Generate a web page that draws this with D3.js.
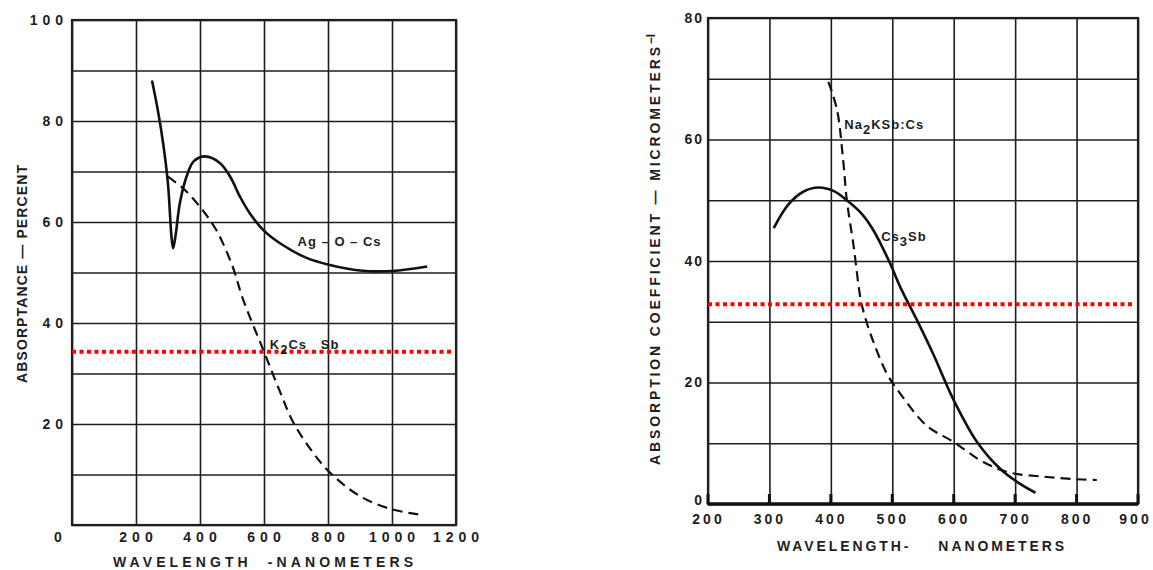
<!DOCTYPE html>
<html lang="en">
<head>
<meta charset="utf-8">
<title>Absorptance and absorption coefficient of photocathodes</title>
<script src="https://cdn.jsdelivr.net/npm/d3@7"></script>
<style>
  body { margin: 0; background: #fff; }
  text {
    font-family: "Liberation Sans", Arial, sans-serif;
    font-weight: bold;
    fill: #1e1e1e;
  }
  .grid line { stroke: #1e1e1e; stroke-width: 1.6; }
  .grid path { display: none; }
  .grid text { font-size: 14px; letter-spacing: 5px; }
  .frame { fill: none; stroke: #1e1e1e; stroke-width: 2.2; }
  .solid { fill: none; stroke: #111; stroke-width: 2.6; }
  .dashed { fill: none; stroke: #111; stroke-width: 2.2; stroke-dasharray: 10,6; }
  .marker { stroke: #ff0000; stroke-width: 4; stroke-dasharray: 4,3.5; }
  .title { font-size: 14px; white-space: pre; }
  .curve-label { font-size: 13px; letter-spacing: 1px; white-space: pre; }
</style>
</head>
<body>
<script>

// ---- left panel: absorptance (percent) vs wavelength (nm)
var leftWaveTicks = [0, 200, 400, 600, 800, 1000, 1200];
var leftPctTicks = [20, 40, 60, 80, 100];

var agWave  = [250, 270, 285, 300, 311, 316, 324, 337, 358, 380, 415, 462, 494, 525, 556, 598, 650, 733, 806, 900, 1000, 1110];
var agValue = [88, 81.5, 75.5, 67.5, 57, 54.8, 57.5, 63.7, 69, 72, 73, 71.7, 69, 65, 61.7, 58.4, 55.8, 52.9, 51.5, 50.4, 50.3, 51.2];

var k2Wave  = [300, 350, 400, 450, 500, 535, 600, 650, 690, 750, 806, 900, 1000, 1082];
var k2Value = [69, 66.5, 63, 58.5, 51.5, 44.6, 34.3, 26.4, 20.5, 14.6, 10.4, 5.7, 3.1, 2.1];

var leftMarker = 34.3;

// ---- right panel: absorption coefficient (1/um) vs wavelength (nm)
var rightWaveTicks = [200, 300, 400, 500, 600, 700, 800, 900];
var rightCoefTicks = [0, 20, 40, 60, 80];

var csWave  = [307, 330, 355, 380, 405, 426, 450, 469, 496, 513, 540, 567, 600, 638, 676, 703, 733];
var csValue = [45.4, 49.2, 51.4, 52.1, 51.5, 50, 47.8, 45.1, 39.7, 35.7, 30.3, 24.6, 17.1, 10.2, 5.75, 3.65, 1.85];

var naWave  = [396, 410, 420, 426, 437, 448, 455, 470, 491, 512, 556, 600, 648, 692, 746, 795, 833];
var naValue = [69.5, 64.9, 56.6, 50, 42.5, 34, 31, 26.5, 21.5, 18.3, 12.9, 10.2, 6.9, 5.15, 4.5, 4.1, 3.95];

var rightMarker = 32.9;

var svg = d3.select("body")
            .append("svg")
            .attr("width", 1153)
            .attr("height", 570);

var line = d3.line().curve(d3.curveCatmullRom.alpha(0.5));

// ================= left panel =================
var xL = d3.scaleLinear().domain([0, 1200]).range([72, 456]);
var yL = d3.scaleLinear().domain([0, 100]).range([525, 20]);

var gL = svg.append("g");

gL.append("g")
  .attr("class", "grid")
  .attr("transform", "translate(0," + yL(0) + ")")
  .call(d3.axisBottom(xL)
          .tickValues(leftWaveTicks)
          .tickSize(-(yL(0) - yL(100)))
          .tickPadding(7)
          .tickFormat(d3.format("d")))
  .selectAll(".tick text")
  .attr("dx", function(d) { return d === 0 ? -12 : 2; });

gL.append("g")
  .attr("class", "grid")
  .attr("transform", "translate(" + xL(0) + ",0)")
  .call(d3.axisLeft(yL)
          .tickValues(d3.range(0, 101, 10))
          .tickSize(-(xL(1200) - xL(0)))
          .tickPadding(4)
          .tickFormat(function(d) { return leftPctTicks.indexOf(d) >= 0 ? d : ""; }));

gL.append("rect")
  .attr("class", "frame")
  .attr("x", xL(0))
  .attr("y", yL(100))
  .attr("width", xL(1200) - xL(0))
  .attr("height", yL(0) - yL(100));

gL.append("path")
  .datum(d3.zip(agWave, agValue))
  .attr("class", "solid")
  .attr("d", line.x(function(d) { return xL(d[0]); }).y(function(d) { return yL(d[1]); }));

gL.append("path")
  .datum(d3.zip(k2Wave, k2Value))
  .attr("class", "dashed")
  .attr("d", line.x(function(d) { return xL(d[0]); }).y(function(d) { return yL(d[1]); }));

gL.append("line")
  .attr("class", "marker")
  .attr("x1", xL(0))
  .attr("x2", xL(1190))
  .attr("y1", yL(leftMarker))
  .attr("y2", yL(leftMarker));

gL.append("text")
  .attr("class", "curve-label")
  .attr("x", xL(705))
  .attr("y", yL(55.2))
  .text("Ag \u2013 O \u2013 Cs");

var k2Label = gL.append("text")
  .attr("class", "curve-label")
  .attr("x", xL(618))
  .attr("y", yL(34.8));
k2Label.append("tspan").text("K");
k2Label.append("tspan").attr("dy", 5).text("2");
k2Label.append("tspan").attr("dy", -5).text("Cs   Sb");

gL.append("text")
  .attr("class", "title")
  .attr("transform", "translate(27,383) rotate(-90)")
  .attr("textLength", 218)
  .attr("lengthAdjust", "spacing")
  .text("ABSORPTANCE \u2014 PERCENT");

gL.append("text")
  .attr("class", "title")
  .attr("x", 113)
  .attr("y", 567)
  .attr("textLength", 300)
  .attr("lengthAdjust", "spacing")
  .text("WAVELENGTH  -NANOMETERS");

// ================= right panel =================
var xR = d3.scaleLinear().domain([200, 900]).range([708, 1138]);
var yR = d3.scaleLinear().domain([0, 80]).range([504, 18]);

var gR = svg.append("g");

gR.append("g")
  .attr("class", "grid")
  .attr("transform", "translate(0," + yR(0) + ")")
  .call(d3.axisBottom(xR)
          .tickValues(rightWaveTicks)
          .tickSize(-(yR(0) - yR(80)))
          .tickPadding(10)
          .tickFormat(d3.format("d")))
  .selectAll(".tick text")
  .style("letter-spacing", "3px")
  .attr("dx", function(d) { return d === 900 ? -3 : 0; });

gR.append("g")
  .attr("class", "grid")
  .attr("transform", "translate(" + xR(200) + ",0)")
  .call(d3.axisLeft(yR)
          .tickValues(d3.range(0, 81, 10))
          .tickSize(-(xR(900) - xR(200)))
          .tickPadding(4)
          .tickFormat(function(d) { return rightCoefTicks.indexOf(d) >= 0 ? d : ""; }))
  .selectAll(".tick text")
  .style("letter-spacing", "2px")
  .attr("dy", function(d) { return d === 0 ? "0" : "0.32em"; });

gR.append("rect")
  .attr("class", "frame")
  .attr("x", xR(200))
  .attr("y", yR(80))
  .attr("width", xR(900) - xR(200))
  .attr("height", yR(0) - yR(80));

// heavier baseline and small tick stubs at the bottom
gR.append("line")
  .attr("x1", xR(200)).attr("x2", xR(900))
  .attr("y1", yR(0)).attr("y2", yR(0))
  .style("stroke", "#111").style("stroke-width", 3.5);

gR.selectAll("line.stub")
  .data(rightWaveTicks)
  .enter()
  .append("line")
  .attr("class", "stub")
  .attr("x1", function(d) { return xR(d); })
  .attr("x2", function(d) { return xR(d); })
  .attr("y1", yR(0))
  .attr("y2", yR(0) - 10)
  .style("stroke", "#111").style("stroke-width", 3);

gR.append("path")
  .datum(d3.zip(csWave, csValue))
  .attr("class", "solid")
  .attr("d", line.x(function(d) { return xR(d[0]); }).y(function(d) { return yR(d[1]); }));

gR.append("path")
  .datum(d3.zip(naWave, naValue))
  .attr("class", "dashed")
  .attr("d", line.x(function(d) { return xR(d[0]); }).y(function(d) { return yR(d[1]); }));

gR.append("line")
  .attr("class", "marker")
  .attr("x1", xR(200))
  .attr("x2", xR(895))
  .attr("y1", yR(rightMarker))
  .attr("y2", yR(rightMarker));

var naLabel = gR.append("text")
  .attr("class", "curve-label")
  .attr("x", xR(422))
  .attr("y", yR(61.8));
naLabel.append("tspan").text("Na");
naLabel.append("tspan").attr("dy", 5).text("2");
naLabel.append("tspan").attr("dy", -5).text("KSb:Cs");

var csLabel = gR.append("text")
  .attr("class", "curve-label")
  .attr("x", xR(482))
  .attr("y", yR(43.3));
csLabel.append("tspan").text("Cs");
csLabel.append("tspan").attr("dy", 5).text("3");
csLabel.append("tspan").attr("dy", -5).text("Sb");

var yTitle = gR.append("text")
  .attr("class", "title")
  .attr("transform", "translate(660,465) rotate(-90)");
yTitle.append("tspan")
  .attr("textLength", 418)
  .attr("lengthAdjust", "spacing")
  .text("ABSORPTION COEFFICIENT \u2014 MICROMETERS");
yTitle.append("tspan").attr("dy", -5).style("font-size", "12px").text("\u2212I");

gR.append("text")
  .attr("class", "title")
  .attr("x", 777)
  .attr("y", 551)
  .attr("textLength", 287)
  .attr("lengthAdjust", "spacing")
  .text("WAVELENGTH-    NANOMETERS");

</script>
</body>
</html>
